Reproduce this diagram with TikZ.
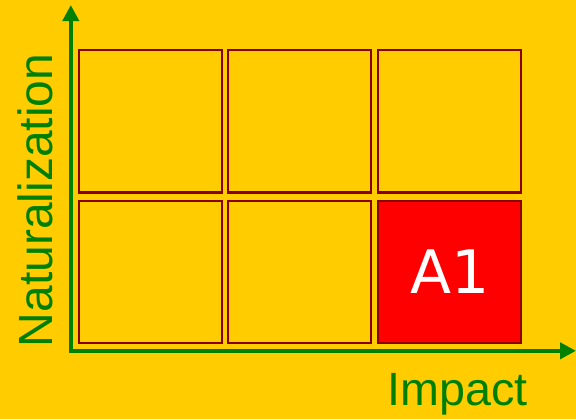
\documentclass[tikz,border=0pt]{standalone}
\usepackage{fontspec}
\setmainfont{Liberation Sans}
\newfontfamily\cellfont{DejaVu Sans}
\usetikzlibrary{arrows.meta}
\definecolor{bggold}{HTML}{FFCC00}
\definecolor{axisgreen}{HTML}{008000}
\definecolor{cellred}{HTML}{880000}
\tikzset{
  cell/.style={rectangle, draw=cellred, fill=bggold, line width=1.6pt, minimum width=107.4pt, minimum height=106.8pt, inner sep=0pt},
  hotcell/.style={cell, fill=red, text=white, font=\cellfont\fontsize{45}{45}\selectfont},
  axis/.style={{Triangle[length=12pt,width=12pt]}-{Triangle[length=12pt,width=12pt]}, line width=3.4pt, axisgreen},
  axislabel/.style={text=axisgreen, inner sep=0pt, font=\fontsize{35}{35}\selectfont}
}
\begin{document}
\begin{tikzpicture}[x=0.75pt,y=-0.75pt]
  \fill[bggold] (0,0) rectangle (576,419);
  \useasboundingbox (0,0) rectangle (576,419);
  % grid of cells
  \node[cell] (c11) at (150.8,121.3) {};
  \node[cell] (c12) at (299.8,121.3) {};
  \node[cell] (c13) at (449.8,121.3) {};
  \node[cell] (c21) at (150.8,272.1) {};
  \node[cell] (c22) at (299.8,272.1) {};
  \node[hotcell] (a1) at (449.8,272.1) {A1};
  % axes
  \coordinate (origin) at (70.8,350.8);
  \coordinate (ytip) at (70.8,5);
  \coordinate (xtip) at (576,350.8);
  \draw[axis] (ytip) -- (origin) -- (xtip);
  \node[axislabel, anchor=base] (xlabel) at (457.5,405) {Impact};
  \node[axislabel, anchor=base, rotate=90, font=\fontsize{36}{36}\selectfont] (ylabel) at (52,200.5) {Naturalization};
\end{tikzpicture}
\end{document}
